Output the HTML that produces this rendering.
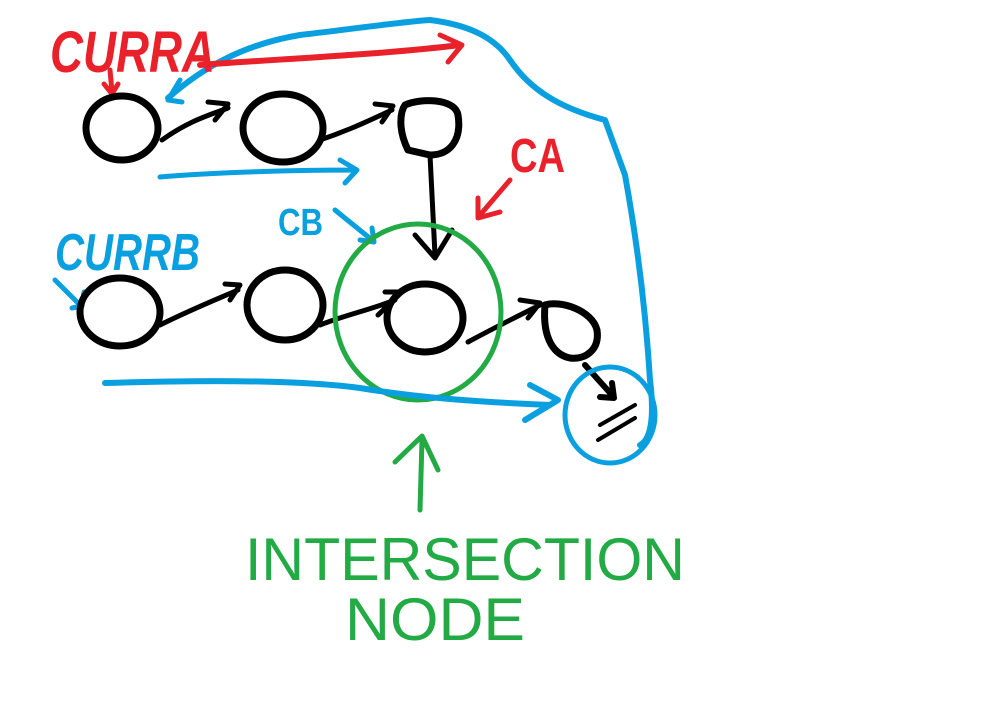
<!DOCTYPE html>
<html><head><meta charset="utf-8"><style>
html,body{margin:0;padding:0;background:#fff;width:993px;height:711px;overflow:hidden}
svg{display:block}
text{font-family:"Liberation Sans",sans-serif;}
</style></head><body>
<svg width="993" height="711" viewBox="0 0 993 711" xmlns="http://www.w3.org/2000/svg">
<g fill="none" stroke-linecap="round" stroke-linejoin="round">
<path d="M168,98 C200,70 240,45 300,35 C360,28 400,22 430,20 C470,25 495,38 510,60 C530,90 560,108 605,120 L625,175 C635,230 645,300 650,380 C655,420 650,440 640,445" stroke="#0aa0e0" stroke-width="6"/>
<path d="M180,80 L168,100 L182,102" stroke="#0aa0e0" stroke-width="5"/>
<path d="M200,65 C260,60 380,55 460,45" stroke="#e8212a" stroke-width="6"/>
<path d="M440,35 L462,45 L448,62" stroke="#e8212a" stroke-width="5"/>
<path d="M110,70 L112,92 M104,84 L112,94 L118,84" stroke="#e8212a" stroke-width="5"/>
<ellipse cx="122" cy="128" rx="36" ry="32" stroke="#000" stroke-width="7"/>
<ellipse cx="283" cy="128" rx="40" ry="34" stroke="#000" stroke-width="7"/>
<path d="M405,105 C420,98 455,98 458,115 C462,140 450,155 430,155 L408,150 C398,130 400,112 405,105Z" stroke="#000" stroke-width="7"/>
<path d="M162,140 C190,120 210,115 228,108 M208,102 L228,104 L215,120" stroke="#000" stroke-width="5"/>
<path d="M320,140 C350,130 370,120 392,110 M375,104 L393,106 L382,122" stroke="#000" stroke-width="5"/>
<path d="M430,155 L435,255 M415,235 L435,258 L452,230" stroke="#000" stroke-width="5"/>
<path d="M160,177 C220,172 300,170 355,170 M340,160 L357,170 L345,183" stroke="#0aa0e0" stroke-width="5"/>
<path d="M335,210 L372,240 M360,240 L374,242 L372,228" stroke="#0aa0e0" stroke-width="5"/>
<path d="M510,180 L480,215 M478,198 L478,218 L500,212" stroke="#e8212a" stroke-width="5"/>
<path d="M55,280 L80,305 M72,308 L82,306 L84,292" stroke="#0aa0e0" stroke-width="5"/>
<ellipse cx="120" cy="312" rx="40" ry="34" stroke="#000" stroke-width="7"/>
<ellipse cx="285" cy="305" rx="38" ry="35" stroke="#000" stroke-width="7"/>
<ellipse cx="425" cy="318" rx="38" ry="34" stroke="#000" stroke-width="7"/>
<path d="M545,305 C560,300 592,310 597,330 C600,350 585,360 570,358 C555,355 542,340 545,305Z" stroke="#000" stroke-width="7"/>
<path d="M160,325 C190,310 215,300 238,290 M225,284 L240,285 L230,300" stroke="#000" stroke-width="5"/>
<path d="M320,325 C345,315 370,310 395,300 M385,292 L402,292 L378,315" stroke="#000" stroke-width="5"/>
<path d="M468,342 C490,330 510,320 540,305 M520,300 L540,303 L528,318" stroke="#000" stroke-width="5"/>
<path d="M585,365 L612,395 M600,397 L614,398 L612,383" stroke="#000" stroke-width="6"/>
<path d="M600,425 L635,405 M598,440 L635,418" stroke="#000" stroke-width="4"/>
<ellipse cx="418" cy="312" rx="83" ry="88" stroke="#22aa44" stroke-width="5"/>
<path d="M105,383 C200,380 300,380 360,388 C420,398 480,402 550,405 M530,385 L558,400 L525,420" stroke="#0aa0e0" stroke-width="6"/>
<ellipse cx="610" cy="415" rx="45" ry="48" stroke="#0aa0e0" stroke-width="5"/>
<path d="M420,510 L422,440 M395,462 L422,436 L438,470" stroke="#22aa44" stroke-width="5"/>
</g>
<text x="50" y="72" font-size="58" font-weight="bold" fill="#e8212a" font-style="italic" textLength="165" lengthAdjust="spacingAndGlyphs">CURRA</text>
<text x="55" y="270" font-size="52" font-weight="bold" fill="#0aa0e0" font-style="italic" textLength="145" lengthAdjust="spacingAndGlyphs">CURRB</text>
<text x="278" y="235" font-size="38" font-weight="bold" fill="#0aa0e0" textLength="45" lengthAdjust="spacingAndGlyphs">CB</text>
<text x="510" y="172" font-size="48" font-weight="bold" fill="#e8212a" textLength="55" lengthAdjust="spacingAndGlyphs">CA</text>
<text x="245" y="580" font-size="60" fill="#22aa44" textLength="440" lengthAdjust="spacingAndGlyphs">INTERSECTION</text>
<text x="345" y="640" font-size="60" fill="#22aa44" textLength="180" lengthAdjust="spacingAndGlyphs">NODE</text>
</svg>
</body></html>
